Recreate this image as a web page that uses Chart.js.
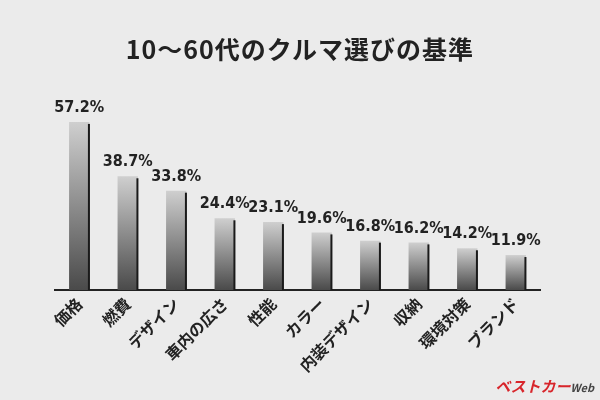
<!DOCTYPE html><html><head><meta charset="utf-8">
<script src="https://cdn.jsdelivr.net/npm/chart.js@4"></script>
<style>html,body{margin:0;background:#ebebeb}#w{width:600px;height:400px;position:relative}
#t{position:absolute;top:30px;width:600px;text-align:center;font:bold 25px "Noto Sans CJK JP";color:#222;letter-spacing:1px}
#m{position:absolute;right:6px;bottom:4px;font:bold italic 15px "Noto Sans CJK JP";color:#d8252b}</style></head><body>
<div id="w"><canvas id="c" width="600" height="400"></canvas><div id="t">10〜60代のクルマ選びの基準</div><div id="m">ベストカー<span style="font-size:11px;color:#444">Web</span></div></div>
<script>
const categories=["価格","燃費","デザイン","車内の広さ","性能","カラー","内装デザイン","収納","環境対策","ブランド"];
const values=[57.2,38.7,33.8,24.4,23.1,19.6,16.8,16.2,14.2,11.9];
const ctx=document.getElementById('c').getContext('2d');
const valPlugin={id:'v',afterDatasetsDraw(ch){const c=ch.ctx;const m=ch.getDatasetMeta(0);c.save();c.font='bold 16px "Liberation Sans Narrow","DejaVu Sans Condensed",sans-serif';c.textAlign='center';c.textBaseline='bottom';
m.data.forEach((b,i)=>{c.fillStyle='#222';c.fillText(values[i].toFixed(1)+'%',b.x,b.y-6);c.fillStyle='#1a1a1a';c.fillRect(b.x+b.width/2-1.5,b.y+2,2,b.base-b.y-2);});c.restore();}};
new Chart(ctx,{type:'bar',data:{labels:categories,datasets:[{data:values,
backgroundColor:(cx)=>{const a=cx.chart.chartArea;if(!a||cx.dataIndex===undefined)return '#999';const y=cx.chart.scales.y;const top=y.getPixelForValue(values[cx.dataIndex]);const g=cx.chart.ctx.createLinearGradient(0,a.bottom,0,top);g.addColorStop(0,'#4a4a4a');g.addColorStop(1,'#cfcfcf');return g;},
barPercentage:0.42,categoryPercentage:1}]},
options:{responsive:false,animation:false,layout:{padding:{top:99,left:55,right:60,bottom:0}},
plugins:{legend:{display:false},tooltip:{enabled:false}},
scales:{y:{display:false,min:0,max:65},
x:{afterFit(s){s.height=110},grid:{display:false,drawTicks:false},border:{color:'#222',width:2},
ticks:{minRotation:45,maxRotation:45,padding:4,color:'#222',font:{family:'"Noto Sans CJK JP"',size:16,weight:'bold'}}}}},
plugins:[valPlugin]});
</script></body></html>
